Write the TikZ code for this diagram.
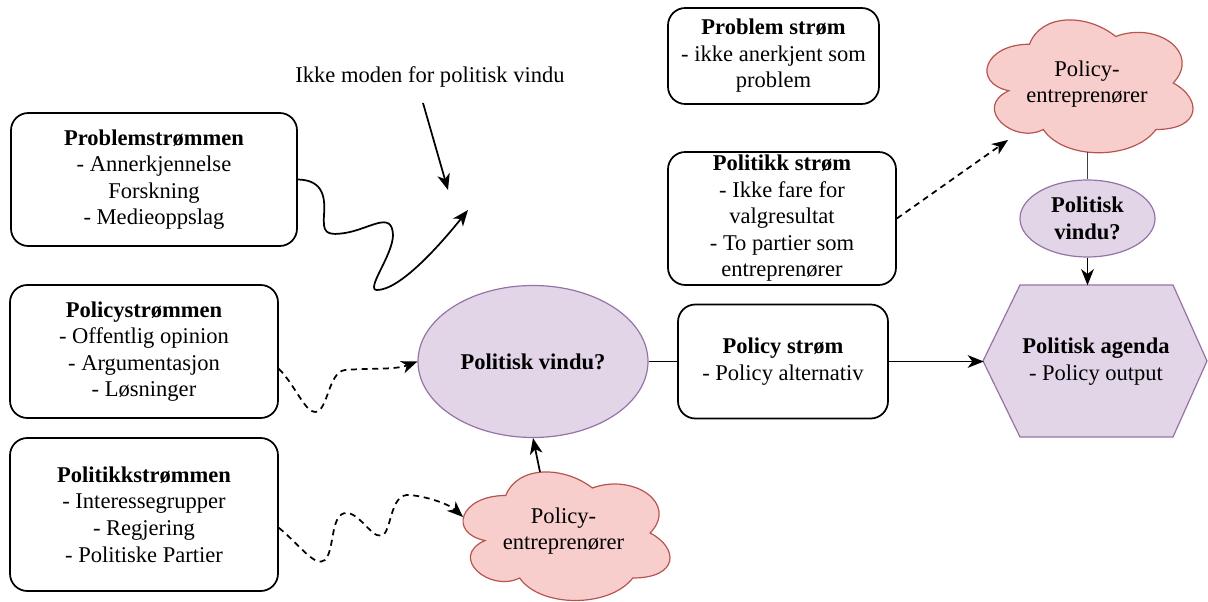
\documentclass[tikz,border=0pt]{standalone}
\usepackage{fontspec}
\setmainfont{Liberation Serif}
\usetikzlibrary{arrows.meta,calc,shapes.geometric}
\definecolor{purfill}{HTML}{E1D5E7}
\definecolor{purline}{HTML}{9673A6}
\definecolor{redfill}{HTML}{F8CECC}
\definecolor{redline}{HTML}{B85450}
\newcommand\cloudshape[5][]{%
\path[#1] ({#2+0.25*#4},{#3+0.25*#5})
 .. controls ({#2+0.05*#4},{#3+0.25*#5}) and ({#2},{#3+0.5*#5}) .. ({#2+0.16*#4},{#3+0.55*#5})
 .. controls ({#2},{#3+0.66*#5}) and ({#2+0.18*#4},{#3+0.9*#5}) .. ({#2+0.31*#4},{#3+0.8*#5})
 .. controls ({#2+0.4*#4},{#3+#5}) and ({#2+0.7*#4},{#3+#5}) .. ({#2+0.8*#4},{#3+0.8*#5})
 .. controls ({#2+#4},{#3+0.8*#5}) and ({#2+#4},{#3+0.6*#5}) .. ({#2+0.875*#4},{#3+0.5*#5})
 .. controls ({#2+#4},{#3+0.3*#5}) and ({#2+0.8*#4},{#3+0.1*#5}) .. ({#2+0.625*#4},{#3+0.2*#5})
 .. controls ({#2+0.5*#4},{#3+0.05*#5}) and ({#2+0.3*#4},{#3+0.05*#5}) .. ({#2+0.25*#4},{#3+0.25*#5}) -- cycle;}
\tikzset{
 txt/.style={font=\fontsize{16.9}{19.9}\selectfont, align=center, inner sep=0pt},
 sz/.style 2 args={minimum width=#1*0.75pt, minimum height=#2*0.75pt},
 stream/.style={txt, draw, line width=1.3pt, rounded corners=13pt},
 purple/.style={draw=purline, fill=purfill, line width=0.9pt},
 cloudsty/.style={draw=redline, fill=redfill, line width=0.9pt},
 tip/.style={-{Stealth[length=12pt,width=9.5pt,inset=3.5pt]}},
 conn/.style={line width=1.3pt, tip},
 plainline/.style={line width=1.3pt},
 dashconn/.style={line width=1.3pt, tip, dash pattern=on 4.5pt off 3.5pt},
}
\begin{document}
\begin{tikzpicture}[x=0.75pt,y=-0.75pt]
\useasboundingbox (0,0) rectangle (1208,602);
% shapes drawn directly
\cloudshape[cloudsty]{448}{458}{231}{150}
\cloudshape[cloudsty]{972}{5.5}{230}{155}
\draw[purple] (983,361) -- (1020,285) -- (1173,285) -- (1207,361) -- (1173,437) -- (1020,437) -- cycle;
% nodes
\node[txt] (note) at (430,77) {Ikke moden for politisk vindu};
\node[stream, sz={286}{133}] (prob) at (154,179.5) {\textbf{Problemstrømmen}\\- Annerkjennelse\\Forskning\\- Medieoppslag};
\node[stream, sz={268}{133}] (polc) at (144,351.5) {\textbf{Policystrømmen}\\- Offentlig opinion\\- Argumentasjon\\- Løsninger};
\node[stream, sz={268}{153}] (polk) at (144,514.5) {\textbf{Politikkstrømmen}\\- Interessegrupper\\- Regjering\\- Politiske Partier};
\node[stream, sz={211}{96}] (pstrom) at (773.5,56) {\textbf{Problem strøm}\\- ikke anerkjent som\\problem};
\node[stream, sz={228}{133}] (pkstrom) at (782,218.5) {\textbf{Politikk strøm}\\- Ikke fare for\\valgresultat\\- To partier som\\entreprenører};
\node[stream, sz={210}{114}] (polstrom) at (783,361.5) {\textbf{Policy strøm}\\- Policy alternativ};
\node[txt, purple, ellipse, sz={230}{152}] (ell) at (533,361.5) {\textbf{Politisk vindu?}};
\node[txt, purple, ellipse, sz={135}{77}] (ell2) at (1087.5,218.5) {\textbf{Politisk}\\\textbf{vindu?}};
\node[txt, sz={231}{120}] (cloud1) at (563.5,531) {Policy-\\entreprenører};
\node[txt, sz={230}{120}] (cloud2) at (1087,84) {Policy-\\entreprenører};
\node[txt, sz={224}{152}] (hex) at (1096,361.5) {\textbf{Politisk agenda}\\- Policy output};
% free ends
\coordinate (a1) at (423,103);
\coordinate (a2) at (448,190);
\coordinate (w1) at (468,210);
\coordinate (c1west) at (463,517);
\coordinate (c1top) at (540,472);
\coordinate (c2sw) at (1008,140);
\coordinate (c2bot) at (1087.5,152);
% connectors
\draw[conn] (a1) -- (a2);
\draw[conn] (prob.east) .. controls (325,180) and (325,200) .. (324,215)
  .. controls (323,232) and (325,236) .. (345,233)
  .. controls (370,229) and (392,210) .. (393,235)
  .. controls (393,255) and (365,290) .. (377,290)
  .. controls (400,290) and (440,245) .. (w1);
\draw[dashconn] ([yshift=-13pt]polc.east) .. controls (295,385) and (305,412) .. (315,412)
  .. controls (328,412) and (328,372) .. (345,370)
  .. controls (370,368) and (395,370) .. (ell.west);
\draw[dashconn] ([yshift=-10pt]polk.east) .. controls (300,545) and (315,568) .. (325,560)
  .. controls (335,550) and (330,512) .. (347,513)
  .. controls (362,514) and (375,545) .. (385,533)
  .. controls (392,522) and (392,493) .. (410,495)
  .. controls (430,497) and (450,505) .. (c1west);
\draw[conn] (c1top) -- (ell.south);
\draw[plainline] (ell.east) -- (polstrom.west);
\draw[conn] (polstrom.east) -- (hex.west);
\draw[dashconn] (pkstrom.east) -- (c2sw);
\draw[plainline, black!75] (c2bot) -- (ell2.north);
\draw[conn] (ell2.south) -- (ell2.south |- hex.north);
\end{tikzpicture}
\end{document}
